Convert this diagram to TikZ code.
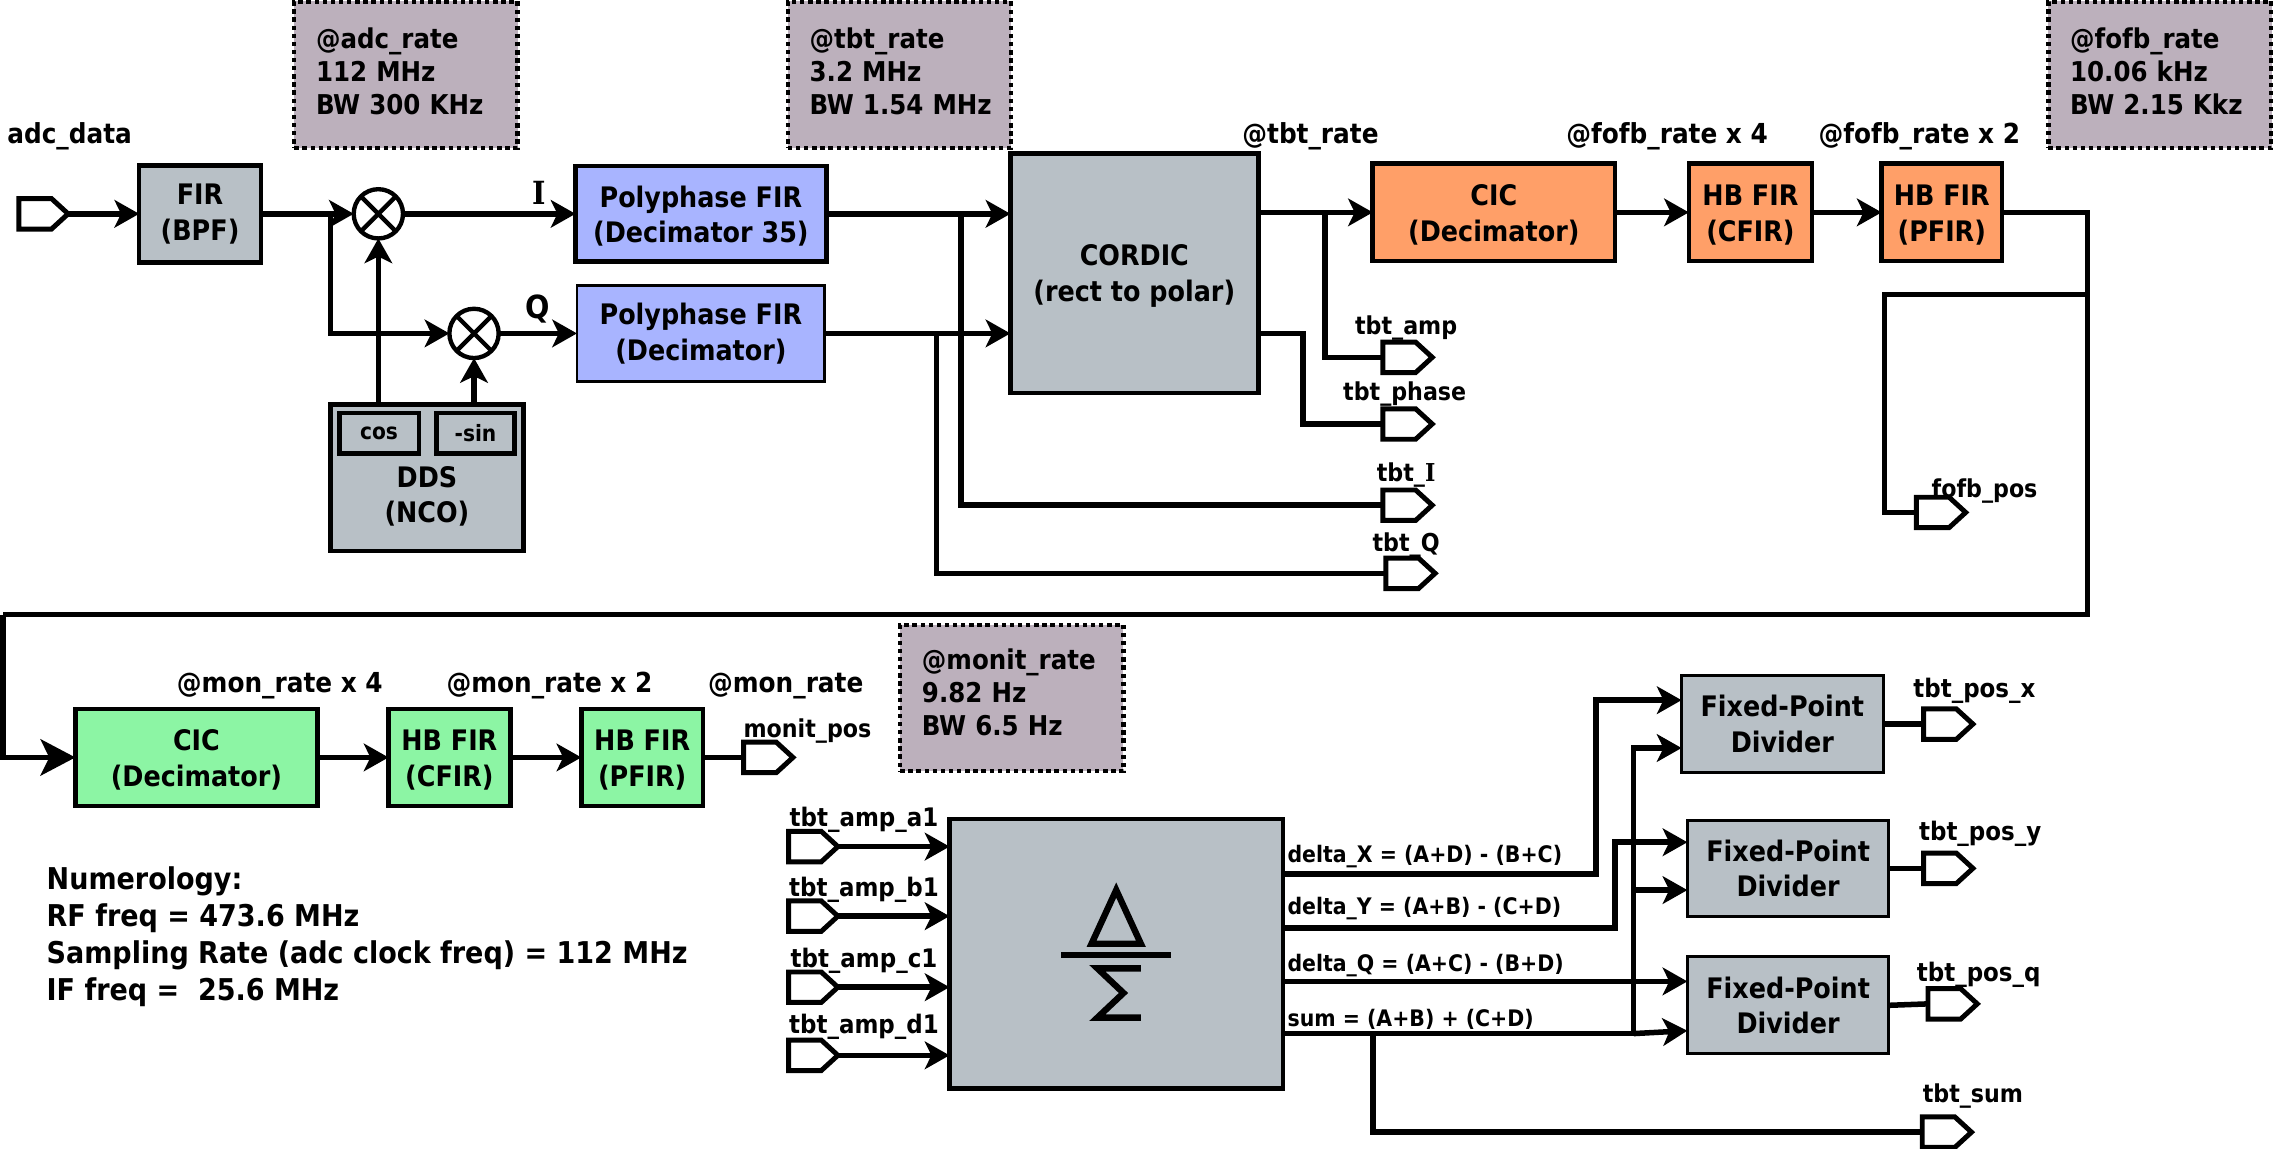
\documentclass[tikz,border=0pt]{standalone}
\usepackage{fontspec}
\setmainfont{DejaVu Sans Condensed}
\newfontfamily\serifbold{DejaVu Serif Condensed}
\usetikzlibrary{arrows.meta,shapes.symbols}
\definecolor{boxgray}{HTML}{B8C0C6}
\definecolor{boxblue}{HTML}{A8B4FF}
\definecolor{boxorange}{HTML}{FF9F68}
\definecolor{boxgreen}{HTML}{8CF5A4}
\definecolor{notegray}{HTML}{BCB0BC}
\newcommand{\notepad}[1]{\rule[-#1]{0pt}{#1}}
\newcommand{\toppad}{\rule{0pt}{18pt}}
\begin{document}
\begin{tikzpicture}[
		x=1pt, y=-1pt,
		>={Stealth[length=17pt,width=19pt,inset=4.5pt]},
		wire/.style={line width=3.8pt,line join=miter},
		bigtip/.style={-{Stealth[length=24pt,width=25pt,inset=6pt]}},
		block/.style={draw=black,line width=3.2pt,inner sep=0pt,outer sep=0pt,align=center,
			font=\fontsize{19.5}{24.5}\selectfont\bfseries},
		thinblock/.style={block,line width=2pt},
		subblock/.style={draw=black,line width=3.2pt,inner sep=0pt,outer sep=0pt,fill=boxgray,
			minimum height=28pt,font=\fontsize{15.5}{18}\selectfont\bfseries},
		note/.style={draw=black,fill=notegray,line width=3pt,dash pattern=on 3pt off 2.6pt,
			minimum width=154pt,minimum height=101pt,inner sep=0pt,outer sep=0pt,text width=124pt,
			align=left,font=\fontsize{18.8}{22.8}\selectfont\bfseries},
		mixer/.style={circle,draw=black,line width=3pt,minimum size=34pt,inner sep=0pt,outer sep=0pt,
			path picture={\draw[line width=3pt]
				(path picture bounding box.north west) -- (path picture bounding box.south east)
				(path picture bounding box.north east) -- (path picture bounding box.south west);}},
		port/.style={signal,signal to=east,signal from=nowhere,signal pointer angle=85,draw=black,
			line width=3.4pt,minimum width=34pt,minimum height=21pt,inner sep=0pt,outer sep=0pt,anchor=west},
		rate/.style={inner sep=0pt,font=\fontsize{19}{22}\selectfont\bfseries},
		tag/.style={inner sep=0pt,font=\fontsize{17}{20}\selectfont\bfseries},
		tagwide/.style={inner sep=0pt,font=\fontsize{17.6}{20}\selectfont\bfseries},
		eq/.style={inner sep=0pt,anchor=west,font=\fontsize{15.7}{18}\selectfont\bfseries},
		glyph/.style={line width=4.4pt,line join=miter}
	]
	\useasboundingbox (0,0) rectangle (1568,792);
	% rate notes
	\node[note] (noteadc) at (280,51.5) {@adc\_rate\\112 MHz\\BW 300 KHz\notepad{5pt}};
	\node[note] (notetbt) at (620.5,51.5) {@tbt\_rate\\3.2 MHz\\\mbox{BW 1.54 MHz}\notepad{5pt}};
	\node[note] (notefofb) at (1490,51.5) {@fofb\_rate\\10.06 kHz\\BW 2.15 Kkz\notepad{5pt}};
	\node[note] (notemon) at (698,481.5) {@monit\_rate\\9.82 Hz\\BW 6.5 Hz\notepad{8pt}};
	% front end
	\node[port] (portadc) at (13,147.5) {};
	\node[rate] (lbladc) at (48,94) {adc\_data};
	\node[block,fill=boxgray,minimum width=84pt,minimum height=67pt] (fir) at (138,147.5) {FIR\\(BPF)};
	\node[mixer] (mixi) at (261,147.5) {};
	\node[mixer] (mixq) at (327,230) {};
	\node[block,fill=boxblue,minimum width=173pt,minimum height=66pt] (polyi) at (483.5,147.5) {\toppad Polyphase FIR\\(Decimator 35)};
	\node[thinblock,fill=boxblue,minimum width=171pt,minimum height=66pt] (polyq) at (483.5,230) {Polyphase FIR\\(Decimator)};
	\node[block,fill=boxgray,minimum width=133pt,minimum height=101pt] (dds) at (294.5,329.5) {};
	\node[subblock,minimum width=55pt] (ddscos) at (261.5,299) {cos};
	\node[subblock,minimum width=54pt] (ddssin) at (328,299) {-sin};
	\node[align=center,inner sep=0pt,font=\fontsize{19.5}{24.5}\selectfont\bfseries] (ddstext) at (294.5,342.5) {DDS\\(NCO)};
	\node[inner sep=0pt,font=\fontsize{22}{24}\selectfont\bfseries\serifbold] (lbli) at (372,133) {I};
	\node[inner sep=0pt,font=\fontsize{22}{24}\selectfont\bfseries] (lblq) at (371,213) {Q};
	% cordic and tbt outputs
	\node[block,fill=boxgray,minimum width=171pt,minimum height=165pt] (cordic) at (782.5,188.5) {\toppad CORDIC\\(rect to polar)};
	\node[port] (portamp) at (954,246.5) {};
	\node[port] (portphase) at (954,292.5) {};
	\node[port] (porti) at (954,348.5) {};
	\node[port] (portq) at (956,395.5) {};
	\node[tag] (lblamp) at (970,226) {tbt\_amp};
	\node[tag] (lblphase) at (969,272) {tbt\_phase};
	\node[tag] (lbli2) at (970,328) {tbt\_{\serifbold\bfseries I}};
	\node[tag] (lblq2) at (970,376) {tbt\_Q};
	\node[rate] (lbltbt) at (904,94) {@tbt\_rate};
	% fofb chain
	\node[block,fill=boxorange,minimum width=167pt,minimum height=67pt] (cicfofb) at (1030.5,146.5) {\toppad CIC\\(Decimator)};
	\node[block,fill=boxorange,minimum width=85pt,minimum height=67pt] (cfirfofb) at (1207.5,146.5) {\toppad HB FIR\\(CFIR)};
	\node[block,fill=boxorange,minimum width=83pt,minimum height=67pt] (pfirfofb) at (1339.5,146.5) {\toppad HB FIR\\(PFIR)};
	\node[rate] (lblfofba) at (1150,94) {@fofb\_rate x 4};
	\node[rate] (lblfofbb) at (1324,94) {@fofb\_rate x 2};
	\node[port] (portfofb) at (1322,353.5) {};
	\node[tag] (lblfofb) at (1369,339) {fofb\_pos};
	% monit chain
	\node[block,fill=boxgreen,minimum width=167pt,minimum height=67pt] (cicmon) at (135.5,522.5) {\toppad CIC\\(Decimator)};
	\node[block,fill=boxgreen,minimum width=84pt,minimum height=67pt] (cfirmon) at (310,522.5) {\toppad HB FIR\\(CFIR)};
	\node[block,fill=boxgreen,minimum width=84pt,minimum height=67pt] (pfirmon) at (443,522.5) {\toppad HB FIR\\(PFIR)};
	\node[rate] (lblmona) at (193,473) {@mon\_rate x 4};
	\node[rate] (lblmonb) at (379,473) {@mon\_rate x 2};
	\node[rate] (lblmonc) at (542,473) {@mon\_rate};
	\node[port] (portmon) at (513,522.5) {};
	\node[tag] (lblmon) at (557,504) {monit\_pos};
	% numerology
	\node[anchor=north west,inner sep=0pt,align=left,font=\fontsize{20.7}{25.4}\selectfont\bfseries] (numbers) at (32,598) {Numerology:\\RF freq = 473.6 MHz\\Sampling Rate (adc clock freq) = 112 MHz\\IF freq = \ 25.6 MHz};
	% delta sigma
	\node[block,fill=boxgray,minimum width=230pt,minimum height=186pt] (dsum) at (770,658) {};
	\draw[glyph] (770,614) -- (787,651) -- (753,651) -- cycle;
	\draw[glyph] (732,659) -- (808,659);
	\draw[glyph] (787,668) -- (757,668) -- (775,685) -- (757,702) -- (787,702);
	\foreach \pname/\py/\ly in {a1/584/565.5,b1/632/613.5,c1/681/662.5,d1/728/708.5} {
		\node[port] (port\pname) at (544,\py) {};
		\node[tagwide] (lbl\pname) at (596,\ly) {tbt\_amp\_\pname};
		\draw[wire,->] (port\pname.east) -- (port\pname.east -| dsum.west);
	}
	\node[eq] (eqx) at (888,591) {delta\_X = (A+D) - (B+C)};
	\node[eq] (eqy) at (888,627) {delta\_Y = (A+B) - (C+D)};
	\node[eq] (eqq) at (888,666) {delta\_Q = (A+C) - (B+D)};
	\node[eq] (eqs) at (888,703) {sum = (A+B) + (C+D)};
	% dividers
	\node[thinblock,fill=boxgray,minimum width=139pt,minimum height=67pt] (divx) at (1229.5,499.5) {Fixed-Point\\Divider};
	\node[thinblock,fill=boxgray,minimum width=139pt,minimum height=66pt] (divy) at (1233.5,599) {Fixed-Point\\Divider};
	\node[thinblock,fill=boxgray,minimum width=139pt,minimum height=67pt] (divq) at (1233.5,693.5) {Fixed-Point\\Divider};
	\node[port] (portx) at (1327,499.5) {};
	\node[port] (porty) at (1327,599) {};
	\node[port] (portdq) at (1330,692.5) {};
	\node[port] (portsum) at (1326,781) {};
	\node[tagwide] (lblx) at (1362,476.5) {tbt\_pos\_x};
	\node[tagwide] (lbly) at (1366,575.5) {tbt\_pos\_y};
	\node[tagwide] (lbldq) at (1365,672.5) {tbt\_pos\_q};
	\node[tag] (lblsum) at (1361,756) {tbt\_sum};
	% front end wires
	\coordinate (splitfir) at (228,147.5);
	\draw[wire,->] (portadc.east) -- (fir.west);
	\draw[wire,->] (fir.east) -- (mixi.west);
	\draw[wire,->] (splitfir) |- (mixq.west);
	\draw[wire,->] (mixi.east) -- (polyi.west);
	\draw[wire,->] (mixq.east) -- (polyq.west);
	\draw[wire,->] (mixi |- dds.north) -- (mixi.south);
	\draw[wire,->] (mixq |- dds.north) -- (mixq.south);
	% cordic wires
	\coordinate (spliti) at (663,147.5);
	\coordinate (splitq) at (646,230);
	\coordinate (splitamp) at (914,147.5);
	\coordinate (phaseout) at (868,230);
	\draw[wire,->] (polyi.east) -- (polyi.east -| cordic.west);
	\draw[wire,->] (polyq.east) -- (polyq.east -| cordic.west);
	\draw[wire] (spliti) |- (porti.west);
	\draw[wire] (splitq) |- (portq.west);
	\draw[wire,->] (cicfofb.west -| cordic.east) -- (cicfofb.west);
	\draw[wire] (splitamp) |- (portamp.west);
	\draw[wire] (phaseout) -| (899,292.5) -- (portphase.west);
	% fofb wires
	\coordinate (loopright) at (1440,146.5);
	\coordinate (splitfofb) at (1440,203);
	\coordinate (loopleft) at (2,424);
	\draw[wire,->] (cicfofb.east) -- (cfirfofb.west);
	\draw[wire,->] (cfirfofb.east) -- (pfirfofb.west);
	\draw[wire] (pfirfofb.east) -- (loopright) |- (loopleft);
	\draw[wire,bigtip] (loopleft) |- (cicmon.west);
	\draw[wire] (splitfofb) -- (1300,203) |- (portfofb.west);
	% monit wires
	\draw[wire,->] (cicmon.east) -- (cfirmon.west);
	\draw[wire,->] (cfirmon.east) -- (pfirmon.west);
	\draw[wire] (pfirmon.east) -- (portmon.west);
	% divider wires
	\coordinate (sumrail) at (1127,713);
	\draw[wire,->] (dsum.east |- 0,603) -| (1101,483) -- (divx.west |- 0,483);
	\draw[wire,->] (dsum.east |- 0,640) -| (1114,581) -- (divy.west |- 0,581);
	\draw[wire,->] (dsum.east |- 0,677) -- (divq.west |- 0,677);
	\draw[wire] (dsum.east |- 0,713) -- (sumrail);
	\draw[wire,->] (sumrail) |- (divx.west |- 0,516);
	\draw[wire,->] (1127,614) -- (divy.west |- 0,614);
	\draw[wire,->] (sumrail) -- (divq.west |- 0,711);
	\draw[wire] (947,713) |- (portsum.west);
	\draw[wire] (divx.east) -- (portx.west);
	\draw[wire] (divy.east) -- (porty.west);
	\draw[wire] (divq.east) -- (portdq.west);
\end{tikzpicture}
\end{document}
